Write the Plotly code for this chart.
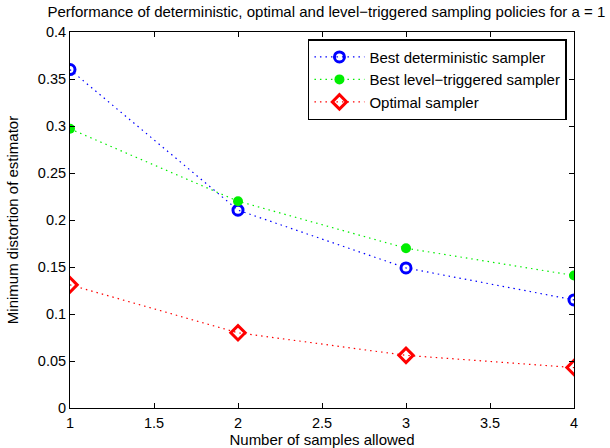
import plotly.graph_objects as go

samples = [1, 2, 3, 4]
deterministic = [0.360, 0.2105, 0.149, 0.115]
level_triggered = [0.297, 0.220, 0.170, 0.141]
optimal = [0.131, 0.080, 0.056, 0.043]

x_ticks = [1, 1.5, 2, 2.5, 3, 3.5, 4]
y_ticks = [0, 0.05, 0.1, 0.15, 0.2, 0.25, 0.3, 0.35, 0.4]

font = "Liberation Sans, Arial, Helvetica, sans-serif"
dot = "1.5px,4px"

fig = go.Figure()
fig.add_trace(go.Scatter(
    x=samples, y=deterministic, mode="lines+markers",
    name="Best deterministic sampler",
    line=dict(color="#0000ff", width=1.2, dash=dot),
    marker=dict(symbol="circle-open", size=10, color="#0000ff", line=dict(width=3, color="#0000ff")),
))
fig.add_trace(go.Scatter(
    x=samples, y=level_triggered, mode="lines+markers",
    name="Best level\u2212triggered sampler",
    line=dict(color="#00ee00", width=1.2, dash=dot),
    marker=dict(symbol="circle", size=10, color="#00ee00"),
))
fig.add_trace(go.Scatter(
    x=samples, y=optimal, mode="lines+markers",
    name="Optimal sampler",
    line=dict(color="#ff0000", width=1.2, dash=dot),
    marker=dict(symbol="diamond-open", size=11, color="#ff0000", line=dict(width=3, color="#ff0000")),
))

axis_common = dict(
    showgrid=False, zeroline=False, showline=True, linecolor="black", linewidth=1,
    mirror="ticks", ticks="inside", ticklen=5, tickcolor="black", automargin=False,
    tickfont=dict(family=font, size=14.5, color="black"),
)

fig.update_layout(
    width=610, height=448,
    margin=dict(l=70, r=36, t=32, b=40),
    paper_bgcolor="white", plot_bgcolor="white",
    font=dict(family=font, size=15, color="black"),
    title=dict(
        text="Performance of deterministic, optimal and level\u2212triggered sampling policies for a = 1",
        font=dict(family=font, size=15, color="black"),
        x=0.535, xanchor="center", y=0.973, yanchor="middle",
    ),
    xaxis=dict(range=[1, 4], tickvals=x_ticks, ticktext=[str(v) if v % 1 else str(int(v)) for v in x_ticks],
               ticklabelstandoff=2,
               title=dict(text="Number of samples allowed", font=dict(family=font, size=15)),
               **axis_common),
    yaxis=dict(range=[0, 0.4], tickvals=y_ticks, ticktext=[("%g" % v) for v in y_ticks],
               title=dict(text="Minimum distortion of estimator", font=dict(family=font, size=15)),
               **axis_common),
    legend=dict(
        x=0.986, y=0.981, xanchor="right", yanchor="top",
        bgcolor="white", bordercolor="black", borderwidth=1.5,
        font=dict(family=font, size=15, color="black"),
        tracegroupgap=0, itemsizing="trace", itemwidth=50,
    ),
    showlegend=True,
)

fig.write_html("out.html")
